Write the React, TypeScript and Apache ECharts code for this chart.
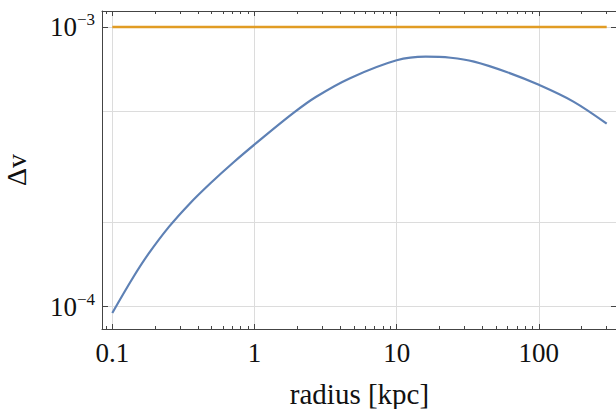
import React, { useEffect, useRef } from "react";
import * as echarts from "echarts";

// Data (radius in kpc, Δv dimensionless)
const radius = [0.1, 0.14, 0.18, 0.25, 0.35, 0.49, 0.71, 1.1, 1.9, 2.7, 4.7, 10, 16, 24, 35, 60, 100, 175, 300];
const deltaV = [0.95e-4, 1.272e-4, 1.547e-4, 1.929e-4, 2.336e-4, 2.763e-4, 3.278e-4, 3.956e-4, 4.95e-4, 5.62e-4, 6.56e-4, 7.6e-4, 7.83e-4, 7.76e-4, 7.52e-4, 6.89e-4, 6.21e-4, 5.41e-4, 4.51e-4];
const limitRadius = [0.1, 300];
const limitDeltaV = [1e-3, 1e-3];

const xMajorTicks = [0.1, 1, 10, 100];
const xTickLabels = ["0.1", "1", "10", "100"];
const xMinorTicks = [0.09, 0.2, 0.3, 0.4, 0.5, 0.6, 0.7, 0.8, 0.9, 2, 3, 4, 5, 6, 7, 8, 9, 20, 30, 40, 50, 60, 70, 80, 90, 200, 300];
const yMajorTicks = [1e-4, 1e-3];
const yTickExponents = ["−4", "−3"];
const yGridValues = [1e-4, 2e-4, 5e-4, 1e-3];

const X_MIN = -1.0725;
const X_MAX = 2.5496;
const Y_MIN = -4.0796;
const Y_MAX = -2.943;

const lg = (v: number) => Math.log10(v);
const FONT = "'Liberation Serif', 'Times New Roman', serif";
const FRAME = "#444";
const GRID = "#dcdcdc";

export default function App() {
  const ref = useRef<HTMLDivElement>(null);
  useEffect(() => {
    if (!ref.current) return;
    const chart = echarts.init(ref.current, undefined, { renderer: "svg" });
    const xMaj = xMajorTicks.map(lg);
    const xMin = xMinorTicks.map(lg);
    const yMaj = yMajorTicks.map(lg);
    const xLabelOf = (v: number) => {
      const i = xMaj.findIndex((m) => Math.abs(m - v) < 1e-6);
      return i >= 0 ? xTickLabels[i] : "";
    };
    const yLabelOf = (v: number) => {
      const i = yMaj.findIndex((m) => Math.abs(m - v) < 1e-6);
      return i >= 0 ? `{b|10}{s|${yTickExponents[i]}}` : "";
    };
    const baseX = {
      type: "value" as const,
      min: X_MIN,
      max: X_MAX,
      axisLine: { show: false, onZero: false },
      axisLabel: { show: false },
      splitLine: { show: false },
      axisTick: { show: false },
    };
    const baseY = {
      type: "value" as const,
      min: Y_MIN,
      max: Y_MAX,
      axisLine: { show: false, onZero: false },
      axisLabel: { show: false },
      splitLine: { show: false },
      axisTick: { show: false },
    };
    chart.setOption({
      animation: false,
      backgroundColor: "#fff",
      grid: { left: 102, top: 11, width: 515, height: 318, containLabel: false, outerBoundsMode: "none" },
      xAxis: [
        {
          ...baseX,
          position: "bottom",
          name: "radius [kpc]",
          nameLocation: "middle",
          nameGap: 50,
          nameTextStyle: { fontFamily: FONT, fontSize: 29, color: "#111" },
          axisLine: { show: true, onZero: false, lineStyle: { color: FRAME, width: 1 } },
          axisTick: { show: true, inside: true, length: 5, customValues: xMaj, lineStyle: { color: FRAME } },
          axisLabel: {
            show: true,
            customValues: xMaj,
            margin: 10,
            formatter: (v: number) => xLabelOf(v),
            fontFamily: FONT,
            fontSize: 27,
            color: "#111",
          },
          splitLine: { show: true, lineStyle: { color: GRID, width: 1 } },
        },
        {
          ...baseX,
          position: "bottom",
          axisTick: { show: true, inside: true, length: 3, customValues: xMin, lineStyle: { color: FRAME } },
        },
        {
          ...baseX,
          position: "top",
          axisLine: { show: true, onZero: false, lineStyle: { color: FRAME, width: 1 } },
          axisTick: { show: true, inside: true, length: 5, customValues: xMaj, lineStyle: { color: FRAME } },
        },
        {
          ...baseX,
          position: "top",
          axisTick: { show: true, inside: true, length: 3, customValues: xMin, lineStyle: { color: FRAME } },
        },
      ],
      yAxis: [
        {
          ...baseY,
          position: "left",
          name: "Δv",
          nameLocation: "middle",
          nameGap: 72,
          nameTextStyle: { fontFamily: FONT, fontSize: 28, color: "#111" },
          axisLine: { show: true, onZero: false, lineStyle: { color: FRAME, width: 1 } },
          axisTick: { show: true, inside: true, length: 6, customValues: yMaj, lineStyle: { color: FRAME } },
          axisLabel: {
            show: true,
            customValues: yMaj,
            margin: 7,
            formatter: (v: number) => yLabelOf(v),
            rich: {
              b: { fontFamily: FONT, fontSize: 27, lineHeight: 32, color: "#111" },
              s: { fontFamily: FONT, fontSize: 17, lineHeight: 17, verticalAlign: "top", color: "#111" },
            },
          },
        },
        {
          ...baseY,
          position: "left",
          axisTick: { show: false, customValues: yGridValues.map(lg) },
          splitLine: { show: true, lineStyle: { color: GRID, width: 1 } },
        },
        {
          ...baseY,
          position: "right",
          axisLine: { show: true, onZero: false, lineStyle: { color: FRAME, width: 1 } },
          axisTick: { show: true, inside: true, length: 6, customValues: yMaj, lineStyle: { color: FRAME } },
        },
      ],
      series: [
        {
          type: "line",
          xAxisIndex: 0,
          yAxisIndex: 0,
          data: radius.map((r, i) => [lg(r), lg(deltaV[i])]),
          showSymbol: false,
          smooth: 0.35,
          lineStyle: { color: "#5E81B5", width: 2.2 },
          z: 3,
        },
        {
          type: "line",
          xAxisIndex: 0,
          yAxisIndex: 0,
          data: limitRadius.map((r, i) => [lg(r), lg(limitDeltaV[i])]),
          showSymbol: false,
          lineStyle: { color: "#E19C24", width: 2.4 },
          z: 3,
        },
      ],
    });
    return () => chart.dispose();
  }, []);
  return (
    <div
      ref={ref}
      style={{ position: "fixed", left: 0, top: 0, width: 620, height: 409, background: "#fff" }}
    />
  );
}
